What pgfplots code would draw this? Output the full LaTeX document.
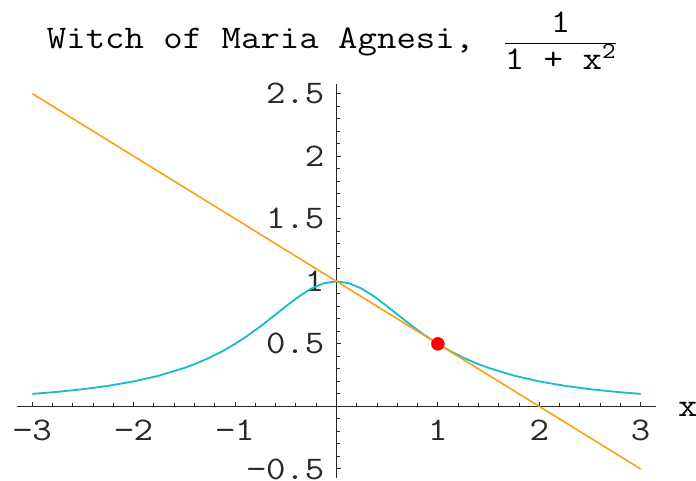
\documentclass[border=0pt]{standalone}
\usepackage{pgfplots}
\pgfplotsset{compat=1.18}
\usepackage{fontspec}
\setmainfont{Latin Modern Mono}[FakeStretch=1.143]
\definecolor{curvec}{RGB}{20,188,205}
\definecolor{tangc}{RGB}{255,158,20}
\definecolor{axc}{RGB}{40,40,40}
\pgfplotstableread{
x y
-3 0.1
-2.75 0.1168
-2.5 0.1379
-2.25 0.1649
-2 0.2
-1.75 0.2462
-1.5 0.3077
-1.375 0.3459
-1.25 0.3902
-1.125 0.4414
-1 0.5
-0.875 0.5664
-0.75 0.64
-0.625 0.7191
-0.5 0.8
-0.375 0.8767
-0.25 0.9412
-0.125 0.9846
0 1
0.125 0.9846
0.25 0.9412
0.375 0.8767
0.5 0.8
0.625 0.7191
0.75 0.64
0.875 0.5664
1 0.5
1.125 0.4414
1.25 0.3902
1.375 0.3459
1.5 0.3077
1.75 0.2462
2 0.2
2.25 0.1649
2.5 0.1379
2.75 0.1168
3 0.1
}\witch
\pgfplotstableread{
x y
-3 2.5
3 -0.5
}\tangent
\begin{document}
\fontsize{33}{40}\selectfont
\begin{tikzpicture}
\begin{axis}[
  scale only axis, width=639.3pt, height=394pt,
  xmin=-3.154, xmax=3.151, ymin=-0.572, ymax=2.577,
  axis lines=middle,
  axis line style={line width=1.2pt, axc, -},
  xtick={-3,-2,-1,1,2,3}, xticklabels={−3,−2,−1,1,2,3},
  ytick={-0.5,0.5,1,1.5,2,2.5}, yticklabels={−0.5,0.5,1,1.5,2,2.5},
  minor xtick={-3,-2.8,...,3.05},
  minor ytick={-0.5,-0.4,...,2.55},
  tick align=inside,
  major tick length=4.5pt, minor tick length=3pt,
  tick style={line width=1pt, axc},
  every tick label/.append style={font=\fontsize{33}{40}\selectfont, text=axc},
  xticklabel style={anchor=north, yshift=-2pt},
  yticklabel style={anchor=east, xshift=-1pt},
  xlabel={x},
  xlabel style={at={(axis cs:3.151,0)}, anchor=base west, inner sep=0pt, xshift=22pt, yshift=-10pt, font=\fontsize{33}{40}\selectfont},
  title={Witch of Maria Agnesi,\ \hspace{10pt}$\displaystyle\frac{\mbox{1}}{\mbox{1 + x}^{\mbox{\fontsize{23}{25}\selectfont 2}}}$},
  title style={at={(rel axis cs:0,1)}, anchor=base west, inner sep=0pt, xshift=30pt, yshift=29pt, font=\fontsize{33}{40}\selectfont},
  clip=false,
]
\coordinate (ll) at (rel axis cs:0,0);
\coordinate (ur) at (rel axis cs:1,1);
\addplot[curvec, line width=1.8pt] table {\witch};
\addplot[tangc, line width=1.6pt] table {\tangent};
\addplot[only marks, mark=*, mark size=6.5pt, color=red] coordinates {(1,0.5)};
\end{axis}
\pgfresetboundingbox
\path ([xshift=-16.7pt,yshift=-3pt]ll) rectangle ([xshift=40pt,yshift=84pt]ur);
\end{tikzpicture}
\end{document}
